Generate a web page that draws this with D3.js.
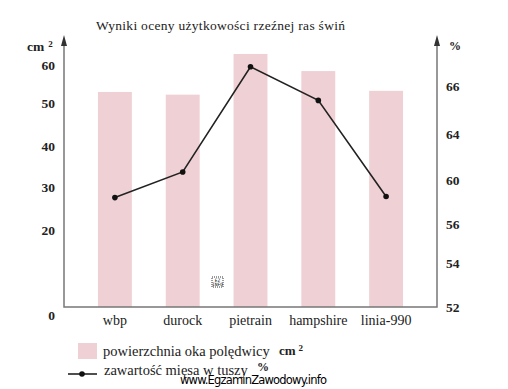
<!DOCTYPE html>
<html>
<head>
	<meta charset="utf-8">
	<script src="https://cdn.jsdelivr.net/npm/d3@7"></script>
	<title>Wyniki oceny</title>
	<style>
		body { margin: 0; background: #fff; }
	</style>
</head>
<body>
	<script type="text/javascript">

	// data
	var breeds = ["wbp", "durock", "pietrain", "hampshire", "linia-990"];
	var loinArea = [52.9, 52.2, 62.9, 58.4, 53.2];   // cm2, bars
	var meatPct = [58.4, 60.7, 66.8, 65.4, 58.5];    // %, line
	var leftTicks = [0, 20, 30, 40, 50, 60];
	var rightTicks = [52, 54, 56, 60, 64, 66];

	var widthSvg = 508;
	var heightSvg = 389;
	var serif = "'Liberation Serif', 'Times New Roman', serif";

	var svg = d3.select("body")
		.append("svg")
		.attr("width", widthSvg)
		.attr("height", heightSvg);

	var xLeft = 64, xRight = 437, yBottom = 307, yTop = 37;

	var xScale = d3.scaleBand()
		.domain(breeds)
		.range([81, 420])
		.paddingInner(0.5)
		.paddingOuter(0.25);

	// the printed axes are not evenly spaced, so the scales are piecewise
	var yLeft = d3.scaleLinear()
		.domain([0, 20, 30, 40, 50, 60, 70])
		.range([yBottom, 230, 187, 146, 103, 65, 27]);

	var yRight = d3.scaleLinear()
		.domain([52, 54, 56, 60, 64, 66, 68])
		.range([yBottom, 263, 224, 180, 134, 86, 38]);

	// title
	svg.append("text")
		.attr("x", 96).attr("y", 30)
		.attr("font-size", 13.5)
		.attr("textLength", 249)
		.text("Wyniki oceny użytkowości rzeźnej  ras świń");

	// bars
	svg.selectAll("rect.bar")
		.data(breeds)
		.enter()
		.append("rect")
		.attr("class", "bar")
		.attr("x", function(d) { return xScale(d); })
		.attr("width", xScale.bandwidth())
		.attr("y", function(d, i) { return yLeft(loinArea[i]); })
		.attr("height", function(d, i) { return yBottom - yLeft(loinArea[i]); })
		.attr("fill", "#efd0d4");

	// frame: left axis, bottom, right axis
	svg.append("path")
		.attr("d", "M" + xLeft + "," + (yTop + 2) + "V" + yBottom + "H" + xRight + "V" + (yTop + 2))
		.attr("fill", "none")
		.attr("stroke", "#777")
		.attr("stroke-width", 1.5);

	// arrow heads
	[xLeft, xRight].forEach(function(x) {
		svg.append("path")
			.attr("d", "M" + (x - 3) + "," + (yTop + 9) + "L" + x + "," + (yTop - 2) + "L" + (x + 3) + "," + (yTop + 9) + "Z")
			.attr("fill", "#333");
	});

	// left axis labels
	var leftAxis = d3.axisLeft(yLeft)
		.tickValues(leftTicks)
		.tickSize(0)
		.tickPadding(9);
	var gl = svg.append("g")
		.attr("transform", "translate(" + xLeft + ",0)")
		.call(leftAxis);
	gl.select(".domain").remove();
	gl.selectAll("text")
		.attr("font-size", 13.5)
		.attr("font-weight", "bold")
		.attr("dy", function(d) { return d === 0 ? "0.9em" : "0.32em"; });

	// right axis labels
	var rightAxis = d3.axisRight(yRight)
		.tickValues(rightTicks)
		.tickSize(0)
		.tickPadding(9);
	var gr = svg.append("g")
		.attr("transform", "translate(" + xRight + ",0)")
		.call(rightAxis);
	gr.select(".domain").remove();
	gr.selectAll("text")
		.attr("font-size", 13.5)
		.attr("font-weight", "bold");

	// category labels
	var bottomAxis = d3.axisBottom(xScale)
		.tickSize(0)
		.tickPadding(8);
	var gb = svg.append("g")
		.attr("transform", "translate(0," + yBottom + ")")
		.call(bottomAxis);
	gb.select(".domain").remove();
	gb.selectAll("text")
		.attr("font-size", 14);

	// unit labels
	var cm = svg.append("text").attr("x", 27).attr("y", 51)
		.attr("font-size", 13.5).attr("font-weight", "bold");
	cm.append("tspan").text("cm");
	cm.append("tspan").attr("dx", 4).attr("dy", -4).attr("font-size", 9).text("2");
	svg.append("text").attr("x", 449).attr("y", 50)
		.attr("font-size", 12).attr("font-weight", "bold").text("%");

	// line
	var line = d3.line()
		.x(function(d, i) { return xScale(breeds[i]) + xScale.bandwidth() / 2; })
		.y(function(d) { return yRight(d); });

	svg.append("path")
		.datum(meatPct)
		.attr("d", line)
		.attr("fill", "none")
		.attr("stroke", "#222")
		.attr("stroke-width", 1.6);

	svg.selectAll("circle.pt")
		.data(meatPct)
		.enter()
		.append("circle")
		.attr("class", "pt")
		.attr("cx", function(d, i) { return xScale(breeds[i]) + xScale.bandwidth() / 2; })
		.attr("cy", function(d) { return yRight(d); })
		.attr("r", 2.8)
		.attr("fill", "#111");

	// legend
	svg.append("rect")
		.attr("x", 78).attr("y", 343).attr("width", 19).attr("height", 16)
		.attr("fill", "#efd0d4");
	svg.append("text").attr("x", 103).attr("y", 356)
		.attr("font-size", 14.5).text("powierzchnia oka polędwicy");
	var cm2 = svg.append("text").attr("x", 279).attr("y", 355)
		.attr("font-size", 13).attr("font-weight", "bold");
	cm2.append("tspan").text("cm");
	cm2.append("tspan").attr("dx", 3).attr("dy", -4).attr("font-size", 9).text("2");

	svg.append("line")
		.attr("x1", 68).attr("x2", 97).attr("y1", 374).attr("y2", 374)
		.attr("stroke", "#222").attr("stroke-width", 1.6);
	svg.append("circle").attr("cx", 82).attr("cy", 374).attr("r", 2.8).attr("fill", "#111");
	svg.append("text").attr("x", 104).attr("y", 375)
		.attr("font-size", 14.5).text("zawartość mięsa w tuszy");
	svg.append("text").attr("x", 257).attr("y", 371)
		.attr("font-size", 12).attr("font-weight", "bold").text("%");

	// all chart text in the serif face of the scan
	svg.selectAll("text").style("font-family", serif).style("fill", "#222");

	// watermark
	svg.append("text").attr("x", 180).attr("y", 384)
		.style("font-family", "'DejaVu Sans', sans-serif")
		.style("fill", "#000")
		.attr("font-size", 11.5)
		.attr("textLength", 147)
		.text("www.EgzaminZawodowy.info");

	var badge = svg.append("g").attr("transform", "translate(212,277)");
	badge.append("rect").attr("width", 11).attr("height", 10)
		.attr("fill", "#fff").attr("stroke", "#000").attr("stroke-width", 0.8)
		.attr("stroke-dasharray", "1,1");
	badge.append("text").attr("x", 5.5).attr("y", 4.5).attr("text-anchor", "middle")
		.style("font-family", "'DejaVu Sans Mono', monospace").attr("font-size", 4.5).text("EZ");
	badge.append("text").attr("x", 5.5).attr("y", 9).attr("text-anchor", "middle")
		.style("font-family", "'DejaVu Sans Mono', monospace").attr("font-size", 4.5).text("INFO");

	</script>
</body>
</html>
